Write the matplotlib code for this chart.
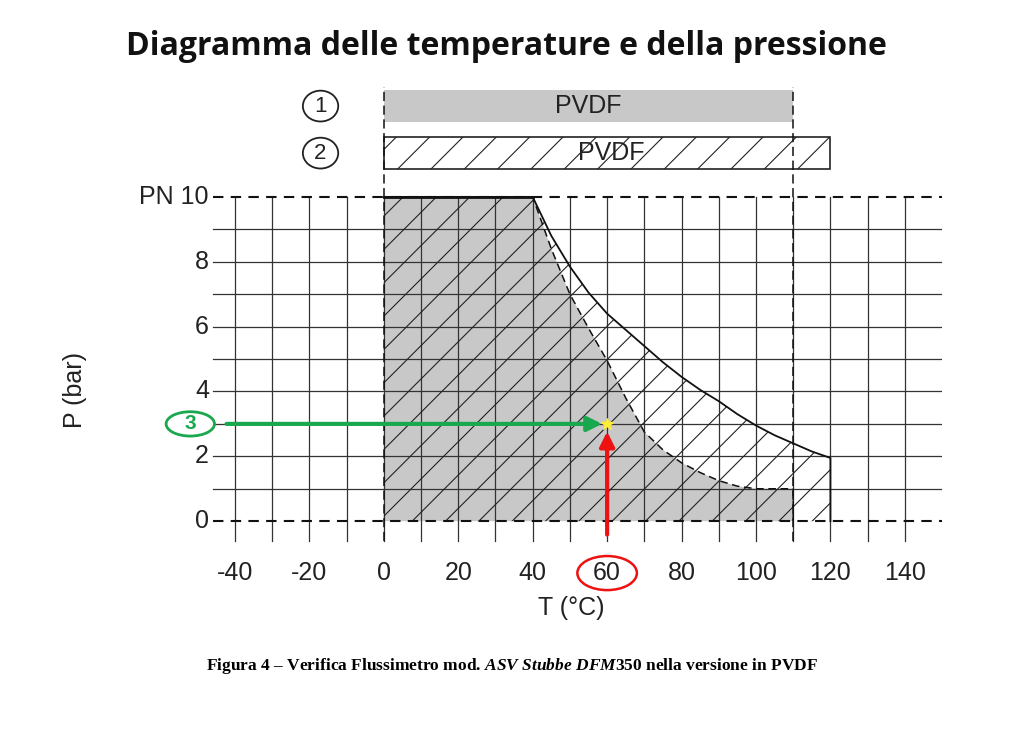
import matplotlib
matplotlib.use("Agg")
import matplotlib.pyplot as plt
import numpy as np
from matplotlib.patches import Ellipse, Rectangle

x_ticks = [-40, -20, 0, 20, 40, 60, 80, 100, 120, 140]
y_ticks = [0, 2, 4, 6, 8]
solid_T = [0, 40, 45, 50, 55, 60, 65, 70, 75, 80, 85, 90, 95, 100, 105, 110, 115, 120]
solid_P = [10, 10, 8.8, 7.85, 7.05, 6.4, 5.9, 5.4, 4.9, 4.45, 4.05, 3.7, 3.3, 2.95, 2.65, 2.4, 2.15, 1.95]
dash_T = [0, 40, 45, 50, 55, 60, 65, 70, 75, 80, 85, 90, 95, 100, 110]
dash_P = [10, 10, 8.4, 7.0, 5.95, 4.95, 3.8, 2.75, 2.2, 1.8, 1.5, 1.25, 1.08, 1.0, 1.0]
point_T, point_P = 60, 3

plt.rcParams['font.family'] = 'Liberation Sans'
plt.rcParams['hatch.linewidth'] = 0.8
plt.rcParams['mathtext.fontset'] = 'custom'
plt.rcParams['mathtext.it'] = 'Liberation Serif:italic:bold'
plt.rcParams['mathtext.rm'] = 'Liberation Serif:bold'
fig = plt.figure(figsize=(10.24, 7.42), dpi=100)
ax = fig.add_axes([0.204, 0.267, 0.716, 0.625])
ax.set_xlim(-47, 150)
ax.set_ylim(-0.7, 13.6)
ax.axis('off')

# grid
for xv in range(-40, 150, 10):
    ax.plot([xv, xv], [-0.6, 10], color='#333333', lw=0.9, zorder=3)
for yv in range(1, 10):
    ax.plot([-46, 150], [yv, yv], color='#333333', lw=0.9, zorder=3)

# fills
st = np.array(solid_T + [120, 0]); sp = np.array(solid_P + [0, 0])
ax.fill(np.array(dash_T + [110, 0]), np.array(dash_P + [0, 0]), color='#c8c8c8', lw=0, zorder=2)
ax.fill(st, sp, facecolor='none', edgecolor='#222222', hatch='/', lw=0, zorder=3)
ax.plot(solid_T + [120], solid_P + [0], color='#111111', lw=1.3, zorder=4)
ax.plot(dash_T + [110], dash_P + [0], color='#111111', lw=1.1, ls=(0, (5, 3)), zorder=4)
ax.plot([0, 40], [10, 10], color='#111111', lw=2, zorder=4)

# dashed frame lines
ax.plot([-46, 150], [10, 10], color='#111111', lw=1.5, ls=(0, (5, 3.5)), zorder=5)
ax.plot([-46, 150], [0, 0], color='#111111', lw=1.5, ls=(0, (5, 3.5)), zorder=5)
ax.plot([0, 0], [-0.6, 13.4], color='#111111', lw=1.1, ls=(0, (6, 3)), zorder=5)
ax.plot([110, 110], [-0.6, 13.4], color='#111111', lw=1.1, ls=(0, (6, 3)), zorder=5)

# material bars
ax.add_patch(Rectangle((0, 12.3), 110, 1.0, facecolor='#c8c8c8', edgecolor='none', zorder=2))
ax.text(55, 12.8, 'PVDF', ha='center', va='center', fontsize=18, color='#222222')
ax.add_patch(Rectangle((0, 10.85), 120, 1.0, facecolor='none', edgecolor='#222222', hatch='/', lw=1.2, zorder=3))
ax.text(61, 11.35, 'PVDF', ha='center', va='center', fontsize=18, color='#222222', zorder=6)
for yc, lab in [(12.8, '1'), (11.35, '2')]:
    ax.add_patch(Ellipse((-17, yc), 9.5, 0.95, facecolor='none', edgecolor='#222222', lw=1.3, zorder=6))
    ax.text(-17, yc, lab, ha='center', va='center', fontsize=16, color='#222222')

# tick labels
for xv in x_ticks:
    ax.text(xv, -1.6, str(xv), ha='center', va='center', fontsize=18, color='#222222', clip_on=False)
for yv in y_ticks:
    ax.text(-47, yv, str(yv), ha='right', va='center', fontsize=18, color='#222222', clip_on=False)
ax.text(-47, 10, 'PN 10', ha='right', va='center', fontsize=18, color='#222222', clip_on=False)
fig.text(0.558, 0.180, 'T (°C)', ha='center', va='center', fontsize=18, color='#222222')
fig.text(0.073, 0.474, 'P (bar)', ha='center', va='center', fontsize=18, rotation=90, color='#222222')

# annotations
ax.annotate('', xy=(point_T - 0.6, point_P), xytext=(-43, point_P),
            arrowprops=dict(arrowstyle='-|>', color='#1aa84f', lw=3, mutation_scale=22), zorder=7, annotation_clip=False)
ax.annotate('', xy=(point_T, point_P - 0.15), xytext=(point_T, -0.5),
            arrowprops=dict(arrowstyle='-|>', color='#ee1111', lw=3, mutation_scale=22), zorder=7)
ax.plot([point_T], [point_P], marker='*', color='#ffee33', ms=9, zorder=8)
ax.add_patch(Ellipse((-52, point_P), 13, 0.75, facecolor='white', edgecolor='#1aa84f', lw=2, clip_on=False, zorder=7))
ax.text(-52, point_P, '3', ha='center', va='center', fontsize=15, fontweight='bold', color='#1aa84f', clip_on=False, zorder=8)
ax.add_patch(Ellipse((point_T, -1.6), 16, 1.05, facecolor='none', edgecolor='#ee1111', lw=1.8, clip_on=False, zorder=7))

fig.text(0.495, 0.937, 'Diagramma delle temperature e della pressione', ha='center', va='center',
         fontsize=23, fontweight='bold', color='#111111', family='Open Sans', stretch='condensed')
fig.text(0.5, 0.103, 'Figura 4 – Verifica Flussimetro mod. $ASV\\ Stubbe\\ DFM350$ nella versione in PVDF',
         ha='center', va='center', fontsize=12.5, fontweight='bold', family='Liberation Serif')

fig.savefig('out.png', dpi=100)
